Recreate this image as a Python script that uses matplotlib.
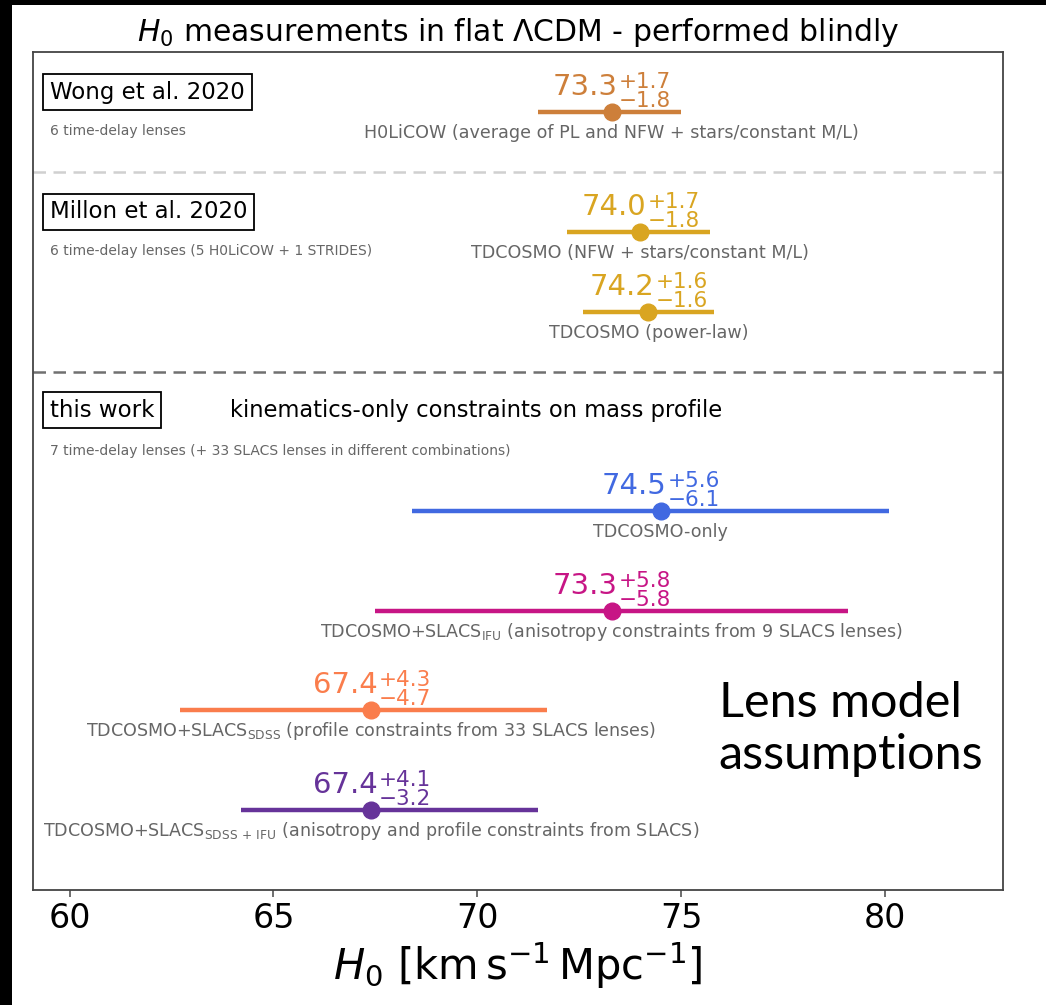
import matplotlib
matplotlib.use("Agg")
import matplotlib.pyplot as plt
from matplotlib.patches import Rectangle
from matplotlib.transforms import offset_copy

# ---- data ----
values = [73.3, 74.0, 74.2, 74.5, 73.3, 67.4, 67.4]
err_hi = [1.7, 1.7, 1.6, 5.6, 5.8, 4.3, 4.1]
err_lo = [1.8, 1.8, 1.6, 6.1, 5.8, 4.7, 3.2]
colors = ["#cd7f3a", "#d9a521", "#d9a521", "#4169e1", "#c71585", "#fa7d4c", "#663399"]
labels = [
    "H0LiCOW (average of PL and NFW + stars/constant M/L)",
    "TDCOSMO (NFW + stars/constant M/L)",
    "TDCOSMO (power-law)",
    "TDCOSMO-only",
    r"TDCOSMO+SLACS$_{\rm IFU}$ (anisotropy constraints from 9 SLACS lenses)",
    r"TDCOSMO+SLACS$_{\rm SDSS}$ (profile constraints from 33 SLACS lenses)",
    r"TDCOSMO+SLACS$_{\rm SDSS\,+\,IFU}$ (anisotropy and profile constraints from SLACS)",
]
# row positions (top-down, arbitrary units)
rows = [60, 180, 260, 459, 559, 658, 758]
separators = [(120, "#d0d0d0"), (320, "#707070")]

groups = [
    ("Wong et al. 2020", 40, "6 time-delay lenses", 79),
    ("Millon et al. 2020", 160, "6 time-delay lenses (5 H0LiCOW + 1 STRIDES)", 199),
    ("this work", 358, "7 time-delay lenses (+ 33 SLACS lenses in different combinations)", 399),
]

W, H = 1046, 1005
fig = plt.figure(figsize=(W / 100, H / 100), dpi=100, facecolor="white")
# black frame strips (left and top) as in the screenshot
fig.patches.append(Rectangle((0, 0), 12 / W, 1, transform=fig.transFigure,
                             facecolor="black", edgecolor="none"))
fig.patches.append(Rectangle((0, 1 - 5 / H), 1, 5 / H, transform=fig.transFigure,
                             facecolor="black", edgecolor="none"))
ax = fig.add_axes([33 / W, 1 - 890 / H, 970 / W, 838 / H])
ax.set_xlim(59.1, 82.9)
ax.set_ylim(838, 0)
renderer = fig.canvas.get_renderer()

for v, hi, lo, c, lab, y in zip(values, err_hi, err_lo, colors, labels, rows):
    ax.plot([v - lo, v + hi], [y, y], color=c, lw=3.2, solid_capstyle="butt")
    ax.plot(v, y, "o", color=c, ms=12)
    # value with asymmetric errors: main number + stacked sup/sub
    tm = ax.text(v, y - 17, "%.1f" % v, color=c, fontsize=21, ha="left", va="baseline")
    tp = ax.text(v, y - 17, "+%.1f" % hi, color=c, fontsize=15.5, ha="left", va="baseline")
    tn = ax.text(v, y - 17, "\u2212%.1f" % lo, color=c, fontsize=15.5, ha="left", va="baseline")
    wm = tm.get_window_extent(renderer).width
    ws = max(tp.get_window_extent(renderer).width, tn.get_window_extent(renderer).width)
    x0 = -(wm + ws) / 2
    tm.set_transform(offset_copy(ax.transData, fig=fig, x=x0, y=0, units="dots"))
    tp.set_transform(offset_copy(ax.transData, fig=fig, x=x0 + wm + 1, y=7, units="dots"))
    tn.set_transform(offset_copy(ax.transData, fig=fig, x=x0 + wm + 1, y=-12, units="dots"))
    ax.text(v, y + 26, lab, color="#666666", fontsize=12.6, ha="center", va="baseline")

for yy, c in separators:
    ax.axhline(yy, color=c, lw=1.8, ls=(0, (5, 3)))

yt = ax.get_yaxis_transform()
for title, yb, sub, ys in groups:
    ax.text(0.0175, yb, title, transform=yt, fontsize=16.5, ha="left", va="center",
            bbox=dict(boxstyle="square,pad=0.3", facecolor="white",
                      edgecolor="black", lw=1.3))
    ax.text(0.0175, ys, sub, transform=yt, fontsize=10, color="#666666",
            ha="left", va="center")

ax.text(0.203, 358, "kinematics-only constraints on mass profile", transform=yt,
        fontsize=16.3, ha="left", va="center")

ax.text(0.707, 677, "Lens model\nassumptions", transform=yt, fontsize=35,
        family="Lato", ha="left", va="center", linespacing=1.2)

ax.set_yticks([])
ax.set_xticks([60, 65, 70, 75, 80])
ax.tick_params(axis="x", labelsize=24, length=5, width=1.2, color="#555555")
for sp in ax.spines.values():
    sp.set_color("#444444")
    sp.set_linewidth(1.3)

ax.set_title(r"$H_0$ measurements in flat ΛCDM - performed blindly", fontsize=21.5, pad=8)
ax.set_xlabel(r"$H_0\ [\mathrm{km\,s^{-1}\,Mpc^{-1}}]$", fontsize=30, labelpad=4)

fig.savefig("out.png", dpi=100)
